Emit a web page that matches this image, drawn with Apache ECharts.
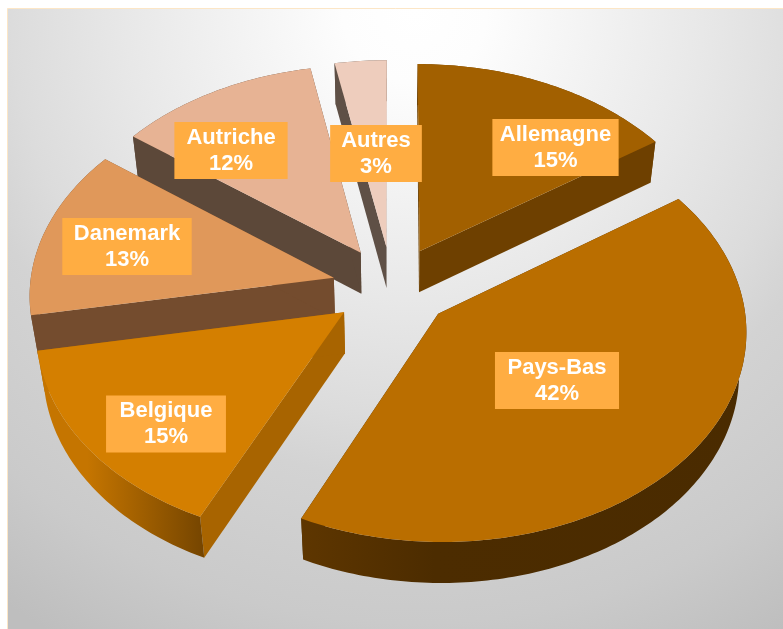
<!DOCTYPE html>
<html><head><meta charset="utf-8">
<style>html,body{margin:0;padding:0;background:#fff}#c{width:783px;height:629px}</style>
<script src="https://cdn.jsdelivr.net/npm/echarts@6/dist/echarts.min.js"></script>
</head><body><div id="c"></div>
<script>
var countries = ['Allemagne','Pays-Bas','Belgique','Danemark','Autriche','Autres'];
var shares = [15.4,41.6,15.1,13.2,11.7,3];
var topColors = ['#A26000','#BA6E00','#D47F00','#E0985A','#E7B394','#EECDBD'];
var edgeColors = ['#6E4000','#4C2C00','#A86400','#744C2E','#5C4839','#5F5046'];
var wallFrom = ['#6E4000','#5E3600','#C57500','#744C2E','#5C4839','#5F5046'];
var wallTo = ['#6E4000','#4A2B00','#754500','#744C2E','#5C4839','#5F5046'];
// label box centres and horizontal padding (layout only)
var labelPos = [[555.5,147.5],[557,380.5],[166,424],[127,246.5],[231,150.5],[376,153.5]];
var labelPad = [7.5,12.5,13.5,11.5,12,11];

var view = {cx:392, cy:287, R:304, explode:60, tilt:0.68, dist:4000, depth:41, conv:2};
function project(X,Y,Z){
  var sy = view.dist/(view.dist+Y);
  var sx = view.dist/(view.dist+Y+view.conv*Z);
  return [view.cx+X*sx, view.cy-Y*view.tilt*sy+Z];
}
var total = shares.reduce(function(a,b){return a+b;},0);
var bounds = [], acc = 0;
shares.forEach(function(v){ bounds.push([acc/total*2*Math.PI,(acc+v)/total*2*Math.PI]); acc+=v; });

function renderItem(params, api){
  var i = params.dataIndex, b = bounds[i], mid=(b[0]+b[1])/2;
  var ax = view.explode*Math.sin(mid), ay = view.explode*Math.cos(mid);
  var rank = Math.round((1-Math.cos(mid))*10);
  var arc = [], n = Math.max(8,Math.ceil((b[1]-b[0])*60));
  for(var k=0;k<=n;k++){
    var t=b[0]+(b[1]-b[0])*k/n;
    arc.push([ax+view.R*Math.sin(t), ay+view.R*Math.cos(t)]);
  }
  function p(q,z){return project(q[0],q[1],z);}
  var apex=[ax,ay], first=arc[0], last=arc[n];
  var topPts=[p(apex,0)].concat(arc.map(function(q){return p(q,0);}));
  var wallPts=arc.map(function(q){return p(q,0);}).concat(arc.slice().reverse().map(function(q){return p(q,view.depth);}));
  function edge(q){return [p(apex,0),p(q,0),p(q,view.depth),p(apex,view.depth)];}
  var base = rank*10;
  var wallFill = {type:'linear',x:0,y:0,x2:1,y2:0,colorStops:[{offset:0,color:wallFrom[i]},{offset:0.3,color:wallTo[i]==='#4A2B00'?'#4C2C00':wallFrom[i]},{offset:1,color:wallTo[i]}]};
  return {type:'group',children:[
    {type:'polygon',z2:base,shape:{points:edge(first)},style:{fill:edgeColors[i]}},
    {type:'polygon',z2:base+1,shape:{points:edge(last)},style:{fill:edgeColors[i]}},
    {type:'polygon',z2:base+2,shape:{points:wallPts},style:{fill:wallFill}},
    {type:'polygon',z2:base+3,shape:{points:topPts},style:{fill:topColors[i]}},
    {type:'text',z2:1000,x:labelPos[i][0],y:labelPos[i][1],style:{
      text:countries[i]+'\n'+Math.round(api.value(0))+'%',fill:'#fff',
      font:'700 22px "Liberation Sans", Arial, sans-serif',lineHeight:26,
      align:'center',verticalAlign:'middle',backgroundColor:'#FFAD42',
      padding:[4,labelPad[i],1,labelPad[i]]}}
  ]};
}
var chart = echarts.init(document.getElementById('c'),null,{renderer:'canvas'});
chart.setOption({
  animation:false,
  backgroundColor:'#fff',
  graphic:[{type:'rect',z:-10,silent:true,shape:{x:7.5,y:8.5,width:780,height:625},
    style:{stroke:'#FCE6C6',lineWidth:1,fill:{type:'radial',x:0.522,y:0.005,r:1.15,colorStops:[
      {offset:0,color:'#ffffff'},{offset:0.1,color:'#fdfdfd'},{offset:0.4,color:'#e8e8e8'},{offset:0.56,color:'#dcdcdc'},{offset:0.65,color:'#d3d3d3'},{offset:0.85,color:'#cacaca'},{offset:1,color:'#bebebe'}]}}}],
  series:[{type:'custom',coordinateSystem:'none',silent:true,renderItem:renderItem,
    data:shares.map(function(v,i){return {name:countries[i],value:[v]};})}]
});
</script></body></html>
